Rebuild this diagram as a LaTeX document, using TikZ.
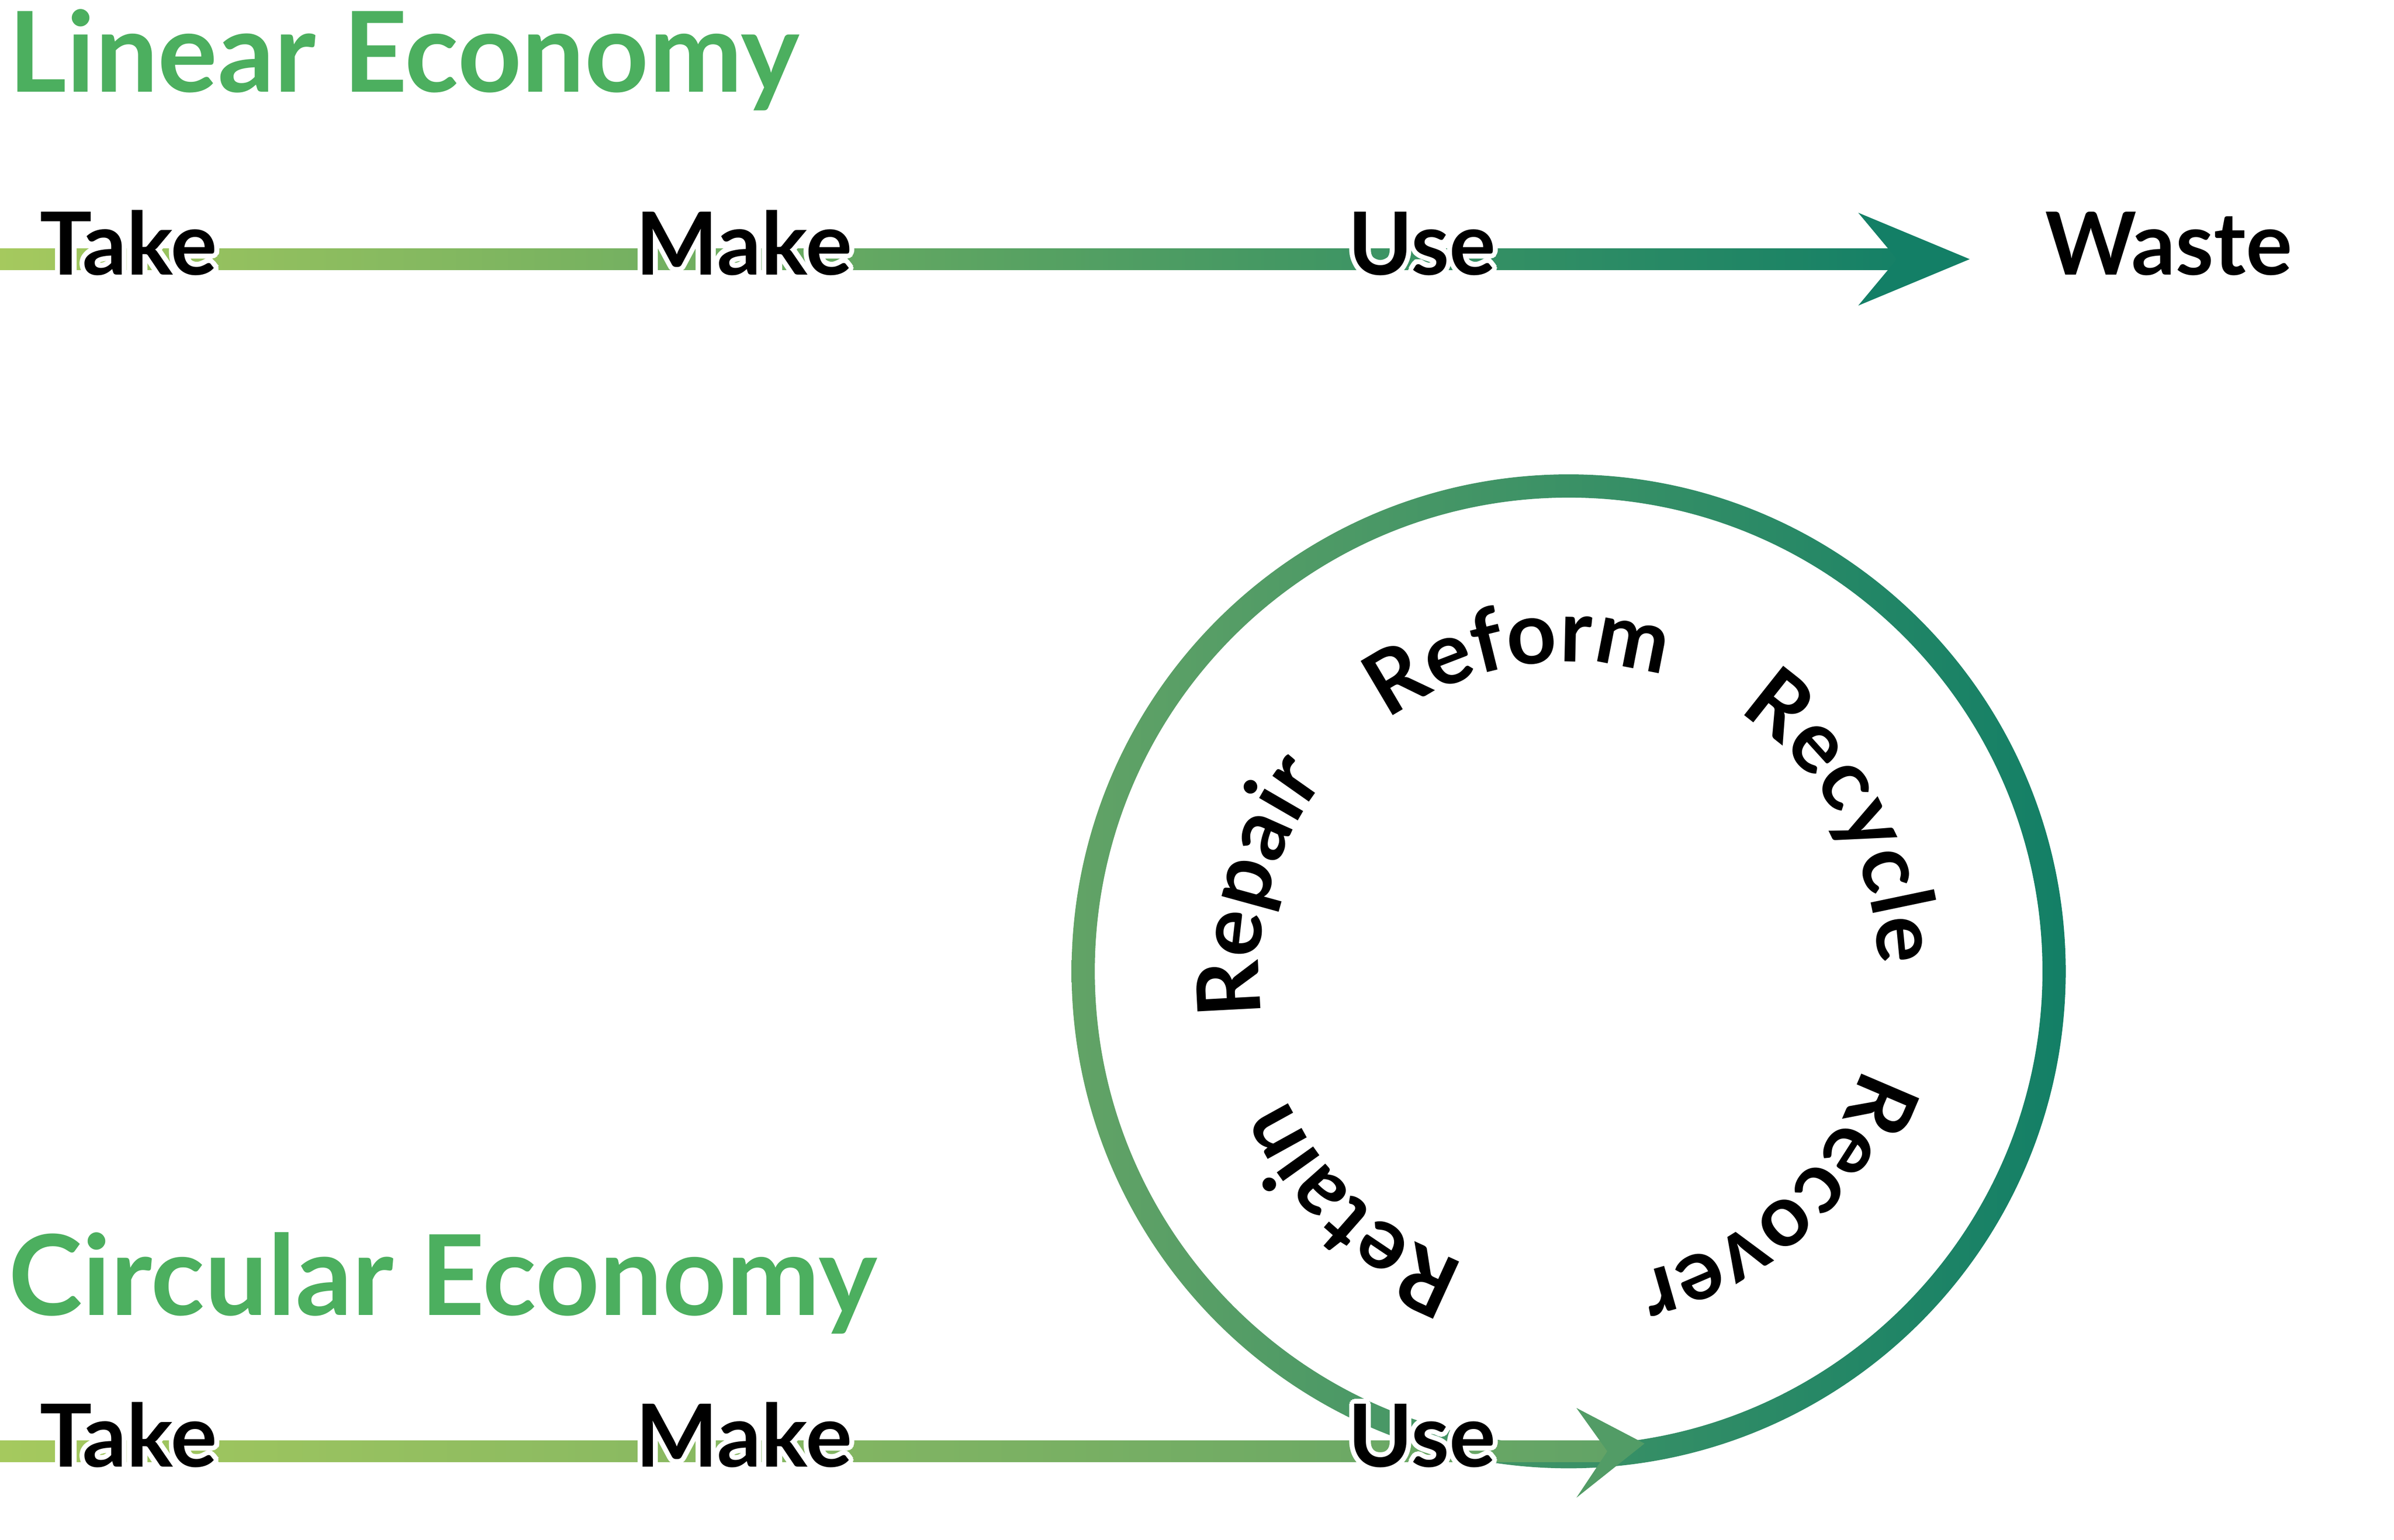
\documentclass[tikz,border=0pt]{standalone}
\usepackage{fontspec}
\setmainfont{Lato}
\usepackage{contour}
\contourlength{0.9pt}
\usetikzlibrary{positioning,calc,decorations.text}
\definecolor{lightgreen}{RGB}{165,201,94}
\definecolor{midgreen}{RGB}{98,163,102}
\definecolor{tealgreen}{RGB}{19,127,102}
\definecolor{titlegreen}{RGB}{76,175,95}

\tikzset{
  title/.style={anchor=base west, text=titlegreen, font=\fontsize{20.5}{24}\selectfont\bfseries, inner sep=0pt},
  stage/.style={anchor=base west, font=\fontsize{16}{19}\selectfont\bfseries, inner sep=0pt},
}
\newcommand{\ringword}[3]{% angle from, angle to, word
  \path[decorate, decoration={text along path, text align=center,
    text={|\fontsize{16}{19}\selectfont\bfseries|#3}}]
    (loop) ++(#1:2.0) arc[start angle=#1, end angle=#2, radius=2.0];}

\begin{document}
\begin{tikzpicture}
    \useasboundingbox (0,0) rectangle (15.46,9.944);
    \coordinate (loop) at (10.13,3.67);

    % linear economy
    \node[title] (lintitle) at (0.05,9.35) {Linear Economy};
    \shade[left color=lightgreen, right color=tealgreen] (0,8.20) rectangle (12.45,8.34);
    \fill[tealgreen] (12.72,8.27) -- (12.0,8.57) -- (12.25,8.27) -- (12.0,7.97) -- cycle;
    \node[stage] (take1) at (0.25,8.17) {\contour{white}{Take}};
    \node[stage] (make1) at (4.10,8.17) {\contour{white}{Make}};
    \node[stage] (use1) at (8.70,8.17) {\contour{white}{Use}};
    \node[stage] (waste) at (13.20,8.17) {Waste};

    % circular economy
    \node[title] (circtitle) at (0.05,1.45) {Circular Economy};
    \shade[left color=midgreen, right color=tealgreen, even odd rule]
      (loop) circle (3.21) (loop) circle (3.06);
    \shade[left color=lightgreen, right color=midgreen] (0,0.50) rectangle (10.45,0.64);
    \fill[midgreen!80!tealgreen] (10.62,0.62) -- (10.18,0.85) -- (10.38,0.57) -- (10.18,0.27) -- cycle;
    \node[stage] (take2) at (0.25,0.47) {\contour{white}{Take}};
    \node[stage] (make2) at (4.10,0.47) {\contour{white}{Make}};
    \node[stage] (use2) at (8.70,0.47) {\contour{white}{Use}};

    % words around the loop
    \ringword{125}{73}{Reform}
    \ringword{62}{-4}{Recycle}
    \ringword{-15}{-80}{Recover}
    \ringword{-105}{-160}{Retain}
    \ringword{200}{130}{Repair}
\end{tikzpicture}
\end{document}
